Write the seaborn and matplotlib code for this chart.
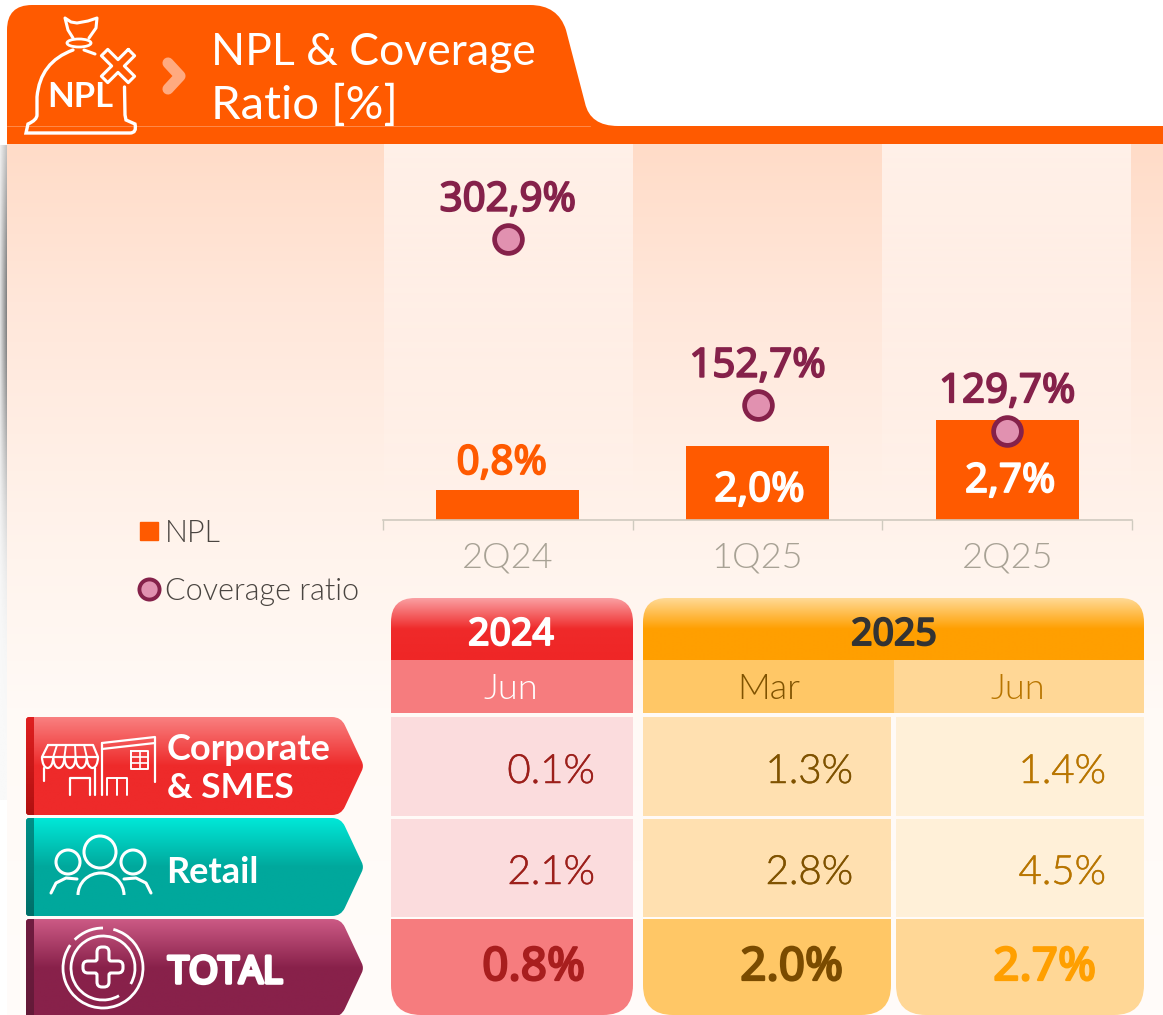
import matplotlib
matplotlib.use("Agg")
import matplotlib.pyplot as plt
import matplotlib.patheffects as pe
import seaborn as sns
import numpy as np
import pandas as pd
from matplotlib.colors import LinearSegmentedColormap
from matplotlib.lines import Line2D
from matplotlib.patches import Circle, Ellipse, PathPatch, Rectangle, Arc
from matplotlib.path import Path

# chart data
quarters = ["2Q24", "1Q25", "2Q25"]
npl = [0.8, 2.0, 2.7]
coverage = [302.9, 152.7, 129.7]
npl_labels = ["0,8%", "2,0%", "2,7%"]
coverage_labels = ["302,9%", "152,7%", "129,7%"]

# table data
row_names = ["Corporate\n& SMES", "Retail", "TOTAL"]
col_years = ["2024", "2025"]
col_months = ["Jun", "Mar", "Jun"]
corporate_vals = ["0.1%", "1.3%", "1.4%"]
retail_vals = ["2.1%", "2.8%", "4.5%"]
total_vals = ["0.8%", "2.0%", "2.7%"]

ORANGE = "#FF5A00"
WINE = "#85214A"
LATO = ["Lato", "Noto Sans", "DejaVu Sans"]
NOTO = ["Noto Sans", "DejaVu Sans"]

sns.set_theme(style="white")
plt.rcParams["font.family"] = LATO

fig = plt.figure(figsize=(11.63, 10.15), dpi=100, facecolor="white")
bg = fig.add_axes([0, 0, 1, 1], zorder=0)
bg.set_xlim(0, 1163)
bg.set_ylim(1015, 0)
bg.axis("off")


def rounded(points, radii):
    # closed path through points, with corners cut by radius
    verts, codes = [], []
    n = len(points)
    for i in range(n):
        p = np.array(points[i], float)
        a = np.array(points[i - 1], float)
        b = np.array(points[(i + 1) % n], float)
        r = radii[i]
        if r == 0:
            verts.append(tuple(p))
            codes.append(Path.LINETO)
            continue
        p1 = p + (a - p) / np.linalg.norm(a - p) * r
        p2 = p + (b - p) / np.linalg.norm(b - p) * r
        verts += [tuple(p1), tuple(p), tuple(p2)]
        codes += [Path.LINETO, Path.CURVE3, Path.CURVE3]
    codes[0] = Path.MOVETO
    verts.append(verts[0])
    codes.append(Path.CLOSEPOLY)
    return Path(verts, codes)


def vgrad(x0, x1, y0, y1, stops, clip=None, zorder=1):
    # vertical gradient between pixel rows y0 and y1
    cmap = LinearSegmentedColormap.from_list("g", stops)
    arr = np.linspace(0, 1, 256).reshape(-1, 1)
    im = bg.imshow(arr, cmap=cmap, extent=(x0, x1, y1, y0), aspect="auto",
                   zorder=zorder, vmin=0, vmax=1, interpolation="bilinear")
    if clip is not None:
        patch = PathPatch(clip, transform=bg.transData, facecolor="none", edgecolor="none")
        bg.add_patch(patch)
        im.set_clip_path(patch)
    return im


def heavy(color, w=1.2):
    # Noto Sans has only one weight here, so thicken it with an outline
    return [pe.withStroke(linewidth=w, foreground=color)]


def txt(x, y, s, size, color, weight="normal", ha="left", family=LATO, thick=0):
    t = bg.text(x, y, s, fontsize=size, color=color, fontweight=weight, ha=ha, va="baseline",
                family=family, zorder=6)
    if thick:
        t.set_path_effects(heavy(color, thick))


def stroke(xs, ys, lw=1.9, color="white", z=6):
    bg.plot(xs, ys, color=color, lw=lw, solid_capstyle="round", solid_joinstyle="round", zorder=z)


# page background
vgrad(7, 1163, 144, 1015, [(0, "#FFDCC8"), (0.18, "#FFE7DA"), (0.42, "#FFF2EA"),
                           (0.65, "#FFFAF6"), (1, "#FFFCFA")], zorder=0)

# soft shadow on the left edge
ys = np.linspace(0, 1, 300)
shade = np.exp(-((ys - 0.25) / 0.28) ** 2)[:, None] * np.linspace(0.15, 0.8, 20)[None, :]
rgba = np.zeros((300, 20, 4))
rgba[..., :3] = 0.4
rgba[..., 3] = shade + 0.04
bg.imshow(rgba, extent=(0, 7, 800, 145), aspect="auto", zorder=0)

# lighter columns behind 2Q24 and 2Q25
for x0, x1 in [(384, 633), (882, 1131)]:
    rgba = np.ones((256, 2, 4))
    rgba[..., 3] = np.linspace(0.6, 0.0, 256)[:, None]
    bg.imshow(rgba, extent=(x0, x1, 520, 143), aspect="auto", zorder=0.5)

# header tab
tab = Path([(7, 144), (7, 30), (7, 5), (32, 5), (530, 5), (558, 5), (566, 30), (585, 103),
            (590, 126), (618, 126), (1163, 126), (1163, 144), (7, 144)],
           [Path.MOVETO, Path.LINETO, Path.CURVE3, Path.CURVE3, Path.LINETO, Path.CURVE3, Path.CURVE3,
            Path.LINETO, Path.CURVE3, Path.CURVE3, Path.LINETO, Path.LINETO, Path.CLOSEPOLY])
bg.add_patch(PathPatch(tab, facecolor=ORANGE, edgecolor="none", zorder=2))
bg.plot([7, 590], [126, 126], color="#FF8A4A", lw=0.7, zorder=3)
txt(211, 65, "NPL & Coverage", 32, "white")
txt(211, 119, "Ratio [%]", 34, "white")
stroke([168, 180, 168], [63, 76, 89], lw=8, color="#FFAA80")

# bag icon
bag = Path([(73, 50), (40, 62), (37, 97), (37, 115), (37, 120), (28, 124), (26, 133), (33, 133),
            (130, 133), (137, 133), (135, 124), (126, 120), (125, 115), (124.5, 87)],
           [Path.MOVETO, Path.CURVE3, Path.CURVE3, Path.LINETO, Path.CURVE3, Path.CURVE3, Path.LINETO,
            Path.LINETO, Path.LINETO, Path.CURVE3, Path.CURVE3, Path.LINETO, Path.LINETO, Path.LINETO])
bg.add_patch(PathPatch(bag, facecolor="none", edgecolor="white", lw=2.4, capstyle="round", zorder=6))
stroke([73, 68, 65, 71, 77, 88, 97, 96, 89], [38, 30, 18, 22, 23, 21, 18, 28, 38], lw=2.2)
stroke([84, 95], [50, 54], lw=2.2)
bg.add_patch(Ellipse((79, 43), 24, 8, facecolor="none", edgecolor="white", lw=2, zorder=6))
arm, half = 19, 4.5
cross = np.array([(-half, -arm), (half, -arm), (half, -half), (arm, -half), (arm, half), (half, half),
                  (half, arm), (-half, arm), (-half, half), (-arm, half), (-arm, -half), (-half, -half),
                  (-half, -arm)])
rot = np.array([[np.cos(np.pi / 4), -np.sin(np.pi / 4)], [np.sin(np.pi / 4), np.cos(np.pi / 4)]])
cross = cross @ rot.T + np.array([118, 66])
stroke(cross[:, 0], cross[:, 1], lw=2.2)
txt(80, 107, "NPL", 25, "white", weight="bold", ha="center")

# table header
h24 = rounded([(391, 660), (391, 598), (633, 598), (633, 660)], [0, 24, 24, 0])
vgrad(391, 633, 598, 660, [(0, "#FAA0A3"), (0.5, "#EF2A2A"), (1, "#EF2626")], clip=h24, zorder=2)
h25 = rounded([(643, 660), (643, 598), (1144, 598), (1144, 660)], [0, 24, 24, 0])
vgrad(643, 1144, 598, 660, [(0, "#FFDA96"), (0.5, "#FF9F00"), (1, "#FF9F00")], clip=h25, zorder=2)
txt(511, 645, col_years[0], 27, "white", ha="center", family=NOTO, thick=1.4)
txt(894, 645, col_years[1], 27, "#333333", ha="center", family=NOTO, thick=1.4)

month_cells = [(391, 633, "#F67C7E"), (643, 894, "#FFC766"), (894, 1144, "#FFD796")]
month_colors = ["white", "#7F5200", "#B87500"]
month_x = [511, 769, 1018]
for (x0, x1, c), m, mc, mx in zip(month_cells, col_months, month_colors, month_x):
    bg.add_patch(Rectangle((x0, 660), x1 - x0, 53, facecolor=c, edgecolor="none", zorder=2))
    txt(mx, 699, m, 26, mc, weight=300, ha="center")

# table body
col_edges = [(391, 633), (643, 891), (896, 1144)]
body_fill = ["#FBDCDD", "#FFE0B0", "#FFF0D8"]
total_fill = ["#F67C7E", "#FFC766", "#FFD796"]
text_colors = ["#9C1F1A", "#7F5200", "#B87500"]
total_colors = ["#A81E1E", "#7A4B00", "#FF9F00"]
right_x = [595, 853, 1106]
right_total = [585, 843, 1096]
for row, (y0, y1, base) in zip([corporate_vals, retail_vals], [(717, 816, 783), (819, 917, 884)]):
    for j, v in enumerate(row):
        x0, x1 = col_edges[j]
        bg.add_patch(Rectangle((x0, y0), x1 - x0, y1 - y0, facecolor=body_fill[j], edgecolor="none", zorder=2))
        txt(right_x[j], base, v, 29, text_colors[j], weight=300, ha="right", thick=0.35)
for j, v in enumerate(total_vals):
    x0, x1 = col_edges[j]
    cell = Path([(x0, 919), (x1, 919), (x1, 985), (x1, 1015), (x1 - 30, 1015), (x0 + 30, 1015), (x0, 1015),
                 (x0, 985), (x0, 919)],
                [Path.MOVETO, Path.LINETO, Path.LINETO, Path.CURVE3, Path.CURVE3, Path.LINETO, Path.CURVE3,
                 Path.CURVE3, Path.CLOSEPOLY])
    bg.add_patch(PathPatch(cell, facecolor=total_fill[j], edgecolor="none", zorder=2))
    txt(right_total[j], 980, v, 33, total_colors[j], ha="right", family=NOTO, thick=1.6)

# row tags on the left
tag_rows = [(717, 815, [(0, "#F98080"), (0.5, "#EE2A2A"), (1, "#EE2A2A")], ["#E02020", "#B01010"]),
            (818, 916, [(0, "#00E8D8"), (0.5, "#00A89C"), (1, "#00A89C")], ["#009088", "#006E68"]),
            (919, 1017, [(0, "#CC5A85"), (0.5, "#88214A"), (1, "#88214A")], ["#701C40", "#631A38"])]
for y0, y1, stops, strip in tag_rows:
    ym = (y0 + y1) / 2
    tag = rounded([(26, y1), (26, y0), (341, y0), (364, ym), (341, y1)], [3, 3, 9, 5, 9])
    vgrad(26, 364, y0, y1, stops, clip=tag, zorder=3)
    strip_clip = rounded([(26, y1), (26, y0), (34, y0), (34, y1)], [3, 3, 0, 0])
    vgrad(26, 34, y0, y1, [(0, strip[0]), (1, strip[1])], clip=strip_clip, zorder=4)

first_line, second_line = row_names[0].split("\n")
txt(167, 760, first_line, 26, "white", weight="bold")
txt(167, 798, second_line, 25.5, "white", weight="bold")
txt(166, 883, row_names[1], 26, "white", weight="bold")
txt(168, 983, row_names[2], 27, "white", family=NOTO, thick=2.6)

# store icon
stroke([48, 93, 98, 42, 48], [745, 745, 757, 757, 745], lw=1.6)
for i in range(5):
    cx = 42 + 5.6 + i * 11.2
    bg.add_patch(Arc((cx, 757), 11.2, 22, theta1=0, theta2=180, color="white", lw=1.6, zorder=6))
for top, bottom in [(57, 53.2), (66, 64.4), (75, 75.6), (84, 86.8)]:
    stroke([top, bottom], [745, 757], lw=1.4)
stroke([44, 44], [768, 781], lw=1.6)
stroke([70, 70, 90, 90], [795, 778, 778, 795], lw=1.6)
stroke([95, 95], [768, 795], lw=1.6)
stroke([102, 102], [743, 795], lw=1.6)
stroke([102, 155, 155], [743, 737, 782], lw=1.6)
stroke([102, 155], [749, 743], lw=1.6)
stroke([131, 148, 148, 131, 131], [751, 751, 769, 769, 751], lw=1.4)
stroke([139.5, 139.5], [751, 769], lw=1.2)
stroke([131, 148], [757, 757], lw=1.2)
stroke([131, 148], [763, 763], lw=1.2)
stroke([107, 107, 127, 127], [795, 778, 778, 795], lw=1.4)
stroke([117, 117], [778, 795], lw=1.4)

# people icon
for cx, cy, r in [(100, 852, 16), (68, 862, 12), (133, 862, 12)]:
    bg.add_patch(Circle((cx, cy), r, facecolor="none", edgecolor="white", lw=2.2, zorder=6))
bg.add_patch(Arc((101, 895), 46, 44, theta1=180, theta2=360, color="white", lw=2.2, zorder=6))
stroke(*zip((51, 893), (56, 883), (66, 878), (77, 879)), lw=2.2)
stroke(*zip((151, 893), (146, 883), (136, 878), (124, 879)), lw=2.2)

# total icon
bg.add_patch(Arc((103, 968), 80, 80, theta1=-75, theta2=215, color="white", lw=2, zorder=6))
bg.add_patch(Arc((103, 968), 80, 80, theta1=225, theta2=270, color="white", lw=2, zorder=6))
bg.add_patch(Arc((103, 968), 64, 64, theta1=60, theta2=30 + 360, color="white", lw=2, zorder=6))
plus_a, plus_h = 20, 6
plus = rounded([(-plus_h, -plus_a), (plus_h, -plus_a), (plus_h, -plus_h), (plus_a, -plus_h), (plus_a, plus_h),
                (plus_h, plus_h), (plus_h, plus_a), (-plus_h, plus_a), (-plus_h, plus_h), (-plus_a, plus_h),
                (-plus_a, -plus_h), (-plus_h, -plus_h)],
               [5, 5, 2, 5, 5, 2, 5, 5, 2, 5, 5, 2])
plus = Path(plus.vertices + np.array([103, 967]), plus.codes)
bg.add_patch(PathPatch(plus, facecolor="none", edgecolor="white", lw=2.2, zorder=6))

# chart axes, placed over the background in pixel terms
W, H = 1163, 1015
ax = fig.add_axes([383 / W, (H - 520) / H, (1132 - 383) / W, (520 - 143) / H], zorder=2)
ax.patch.set_alpha(0)
df = pd.DataFrame({"quarter": quarters, "npl": npl, "coverage": coverage})
sns.barplot(data=df, x="quarter", y="npl", color=ORANGE, saturation=1, width=0.573, linewidth=0, ax=ax)
ax.set_xlim(-0.5, 2.5)
ax.set_ylim(0, 10.2)
ax.set_xlabel("")
ax.set_ylabel("")
ax.set_yticks([])
sns.despine(ax=ax, left=True)
ax.spines["bottom"].set_color("#CFCABF")
ax.spines["bottom"].set_linewidth(1.2)
ax.set_xticks([-0.5, 0.5, 1.5, 2.5], minor=True)
ax.tick_params(axis="x", which="minor", bottom=True, length=7, width=1, color="#CFCABF")
ax.tick_params(axis="x", which="major", bottom=False, length=0, pad=15.5, labelsize=26, labelcolor="#A8A295")
for lab in ax.get_xticklabels():
    lab.set_fontweight(300)

npl_offsets = [(-6, 46), (2, 19), (3, 28)]
npl_text = [ORANGE, "white", "white"]
for i, (lbl, off, c) in enumerate(zip(npl_labels, npl_offsets, npl_text)):
    ax.annotate(lbl, (i, 0), xytext=(off[0] * 0.72, off[1] * 0.72), textcoords="offset points",
                ha="center", va="baseline", fontsize=29, color=c, family=NOTO,
                path_effects=heavy(c, 1.3))

ax2 = ax.twinx()
ax2.set_ylim(48.9, 390)
ax2.patch.set_alpha(0)
sns.scatterplot(data=df, x="quarter", y="coverage", ax=ax2, s=400, color="#E191B0",
                edgecolor=WINE, linewidth=3.4, clip_on=False, zorder=5, legend=False)
ax2.set_xlim(-0.5, 2.5)
ax2.set_xlabel("")
ax2.set_ylabel("")
ax2.set_yticks([])
sns.despine(ax=ax2, left=True, bottom=True)
for i, (v, lbl) in enumerate(zip(coverage, coverage_labels)):
    ax2.annotate(lbl, (i, v), xytext=(0, 20.5), textcoords="offset points", ha="center", va="baseline",
                 fontsize=29, color=WINE, family=NOTO, path_effects=heavy(WINE, 1.3))

# legend
handles = [Line2D([], [], marker="s", ls="", ms=12.5, color=ORANGE, label="NPL"),
           Line2D([], [], marker="o", ls="", ms=14.5, mfc="#E191B0", mec=WINE, mew=2.8, label="Coverage ratio")]
leg = fig.legend(handles=handles, loc="upper left", bbox_to_anchor=(134 / W, (H - 519) / H), frameon=False,
                 fontsize=22, labelcolor="#4A4541", labelspacing=0.95, handletextpad=0.0, handlelength=1.0,
                 borderpad=0, borderaxespad=0)
for t in leg.get_texts():
    t.set_fontweight(300)

plt.savefig("out.png", dpi=100)
plt.close()
